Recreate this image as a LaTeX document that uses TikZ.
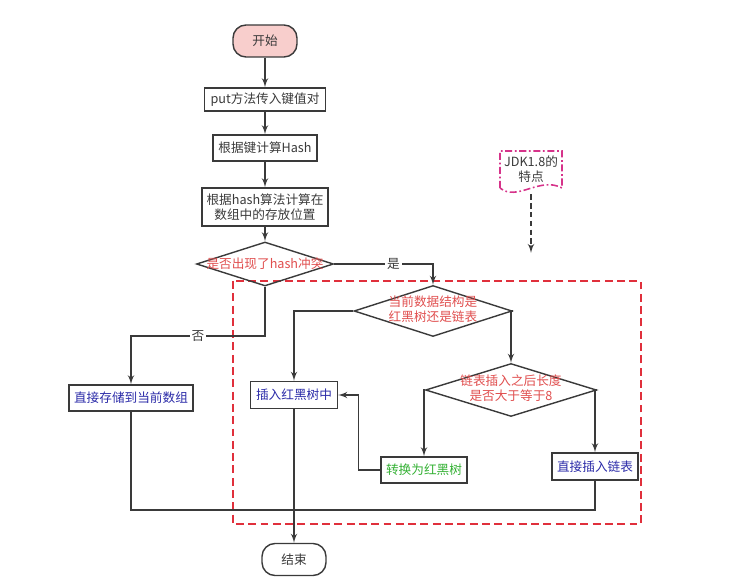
\documentclass[tikz,border=0pt]{standalone}
\usepackage{fontspec}
\newfontfamily\cjk{Noto Sans CJK SC}
\usepackage{tikz}
\usetikzlibrary{arrows,shapes.geometric}

\definecolor{startpink}{HTML}{F8CECC}
\definecolor{linegray}{HTML}{3A3A3A}
\definecolor{askred}{HTML}{E04E4E}
\definecolor{doblue}{HTML}{2B2BA8}
\definecolor{dogreen}{HTML}{33B033}
\definecolor{framered}{HTML}{E0303C}
\definecolor{notepink}{HTML}{D6338A}

\tikzset{
  base/.style={draw=linegray,line width=0.8pt,text=linegray,inner sep=0pt,
               font=\cjk\fontsize{7.2}{8.8}\selectfont},
  terminal/.style={base,rectangle,rounded corners=0.26cm,
                   minimum width=1.28cm,minimum height=0.64cm},
  process/.style={base,rectangle,align=center},
  decision/.style={base,diamond,text=askred},
  tag/.style={fill=white,inner sep=1pt,text=linegray,
              font=\cjk\fontsize{7.2}{8.8}\selectfont},
  notetext/.style={inner sep=0pt,align=center,text=linegray,
                   minimum width=1.24cm,minimum height=0.78cm,
                   font=\cjk\fontsize{7.2}{8.8}\selectfont}
}

\begin{document}
\begin{tikzpicture}[x=0.02cm,y=-0.02cm,>=latex',line width=0.8pt,color=linegray]
  \useasboundingbox (0,0) rectangle (744,577);

  % area of the jdk 1.8 changes
  \draw[framered,line width=1pt,dash pattern=on 4.5pt off 2.5pt]
       (233,281) rectangle (641,524);

  \node[terminal,fill=startpink] (start) at (265, 41) {开始};
  \node[process,minimum width=2.42cm,minimum height=0.46cm] (put)  at (265, 99.5) {put方法传入键值对};
  \node[process,minimum width=2.08cm,minimum height=0.52cm] (hash) at (265,148) {根据键计算Hash};
  \node[process,minimum width=2.52cm,minimum height=0.76cm] (pos)  at (265,207) {根据hash算法计算在\\数组中的存放位置};
  \node[decision,minimum width=2.74cm,minimum height=0.88cm] (clash) at (265,264)
       {\makebox[0pt]{是否出现了hash冲突}};
  \node[decision,minimum width=3.16cm,minimum height=1.02cm] (tree) at (433,311)
       {\makebox[0pt]{\begin{tabular}{@{}c@{}}当前数据结构是\\红黑树还是链表\end{tabular}}};
  \node[decision,minimum width=3.42cm,minimum height=1.06cm] (long) at (511,390)
       {\makebox[0pt]{\begin{tabular}{@{}c@{}}链表插入之后长度\\是否大于等于8\end{tabular}}};
  \node[process,text=doblue,minimum width=2.48cm,minimum height=0.52cm] (store) at (131,398) {直接存储到当前数组};
  \node[process,text=doblue,minimum width=1.74cm,minimum height=0.54cm] (rbt)   at (294,395) {插入红黑树中};
  \node[process,text=dogreen,minimum width=1.72cm,minimum height=0.52cm] (conv) at (424,470) {转换为红黑树};
  \node[process,text=doblue,minimum width=1.72cm,minimum height=0.54cm] (list)  at (595,466.5) {直接插入链表};
  \node[terminal] (end) at (294,559.5) {结束};

  % note
  \node[notetext] (jdk) at (531,169) {JDK1.8的\\特点};
  \draw[notepink,line width=0.9pt,dash pattern=on 4pt off 1.5pt on 1pt off 1.5pt]
       (500,188) -- (500,151) -- (562,151) -- (562,188)
       .. controls (540,176) and (517,202) .. (500,188);
  \coordinate (jdkhint) at (531,253);
  \draw[->,dash pattern=on 3pt off 2pt,shorten <=3pt] (jdk.south) -- (jdkhint);

  \path[->] (start) edge (put)
            (put)   edge (hash)
            (hash)  edge (pos)
            (pos)   edge (clash);

  \coordinate (nobend) at (265,336);
  \draw[->] (clash.east) -| node[tag,pos=0.3] {是} (tree.north);
  \draw[->] (clash.south) -- (nobend) -| node[tag,pos=0.25] {否} (store.north);
  \draw[->] (tree.west) -| (rbt.north);
  \draw[->] (tree.east) -| (long.north);
  \draw[->] (long.west) -| (conv.north);
  \draw[->] (long.east) -| (list.north);
  \draw[->] (conv.west) -- ++(-22,0) |- (rbt.east);

  \coordinate (merge) at (294,510);
  \draw (store.south) |- (merge);
  \draw (list.south) |- (merge);
  \draw[->] (rbt.south) -- (end.north);
\end{tikzpicture}
\end{document}
